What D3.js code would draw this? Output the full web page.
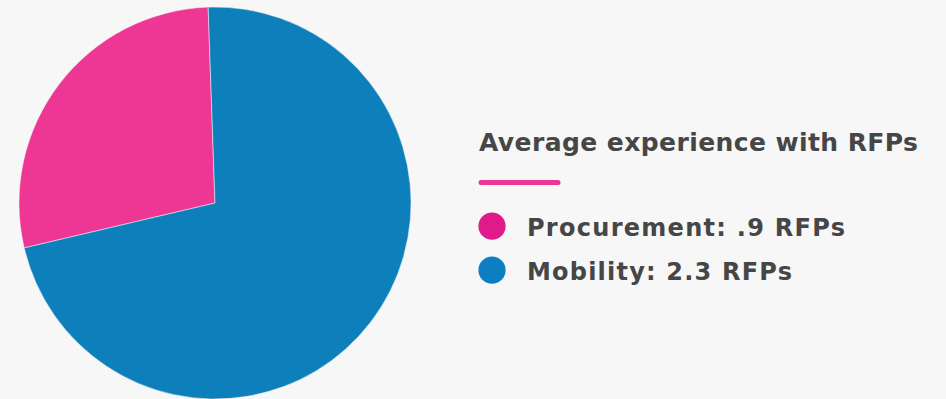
<!DOCTYPE html>
<html>
<head>
<meta charset="utf-8">
<script src="https://cdn.jsdelivr.net/npm/d3@7"></script>
<style>
  html, body { margin: 0; padding: 0; background: #f7f7f7; }
  svg { display: block; }
  text { font-family: "DejaVu Sans", sans-serif; font-weight: 700; fill: #464646; }
</style>
</head>
<body>
<svg id="chart" width="946" height="399"></svg>
<script>
// Average number of RFPs handled, by role
const categories = ["Procurement", "Mobility"];
const values = [0.9, 2.3];
const sliceColors = ["#ee3794", "#0d7fbb"];
const dotColors = ["#e01a8a", "#0b7fc1"];
const title = "Average experience with RFPs";
const unit = "RFPs";

const fmt = v => d3.format(".1f")(v).replace(/^0\./, ".");

const svg = d3.select("#chart");
const W = 946, H = 399;
svg.append("rect").attr("width", W).attr("height", H).attr("fill", "#f7f7f7");

const data = categories.map((c, i) => ({ name: c, value: values[i], i }));

// Pie: larger share first, clockwise from just left of twelve o'clock
const pie = d3.pie()
  .value(d => d.value)
  .sort((a, b) => b.value - a.value)
  .startAngle(-2 * Math.PI / 180)
  .endAngle(2 * Math.PI - 2 * Math.PI / 180);

const radius = 196;
const arc = d3.arc().innerRadius(0).outerRadius(radius);

const g = svg.append("g").attr("transform", "translate(215,203)");
g.selectAll("path")
  .data(pie(data))
  .join("path")
  .attr("d", arc)
  .attr("fill", d => sliceColors[d.data.i])
  .attr("stroke", "#f7f7f7")
  .attr("stroke-width", 0.5);

// Legend block
const legend = svg.append("g");

function fitWidth(sel, target) {
  const node = sel.node();
  const n = node.getNumberOfChars();
  const w = node.getComputedTextLength();
  if (n > 1) sel.attr("letter-spacing", ((target - w) / (n - 1)).toFixed(3));
}

const titleText = legend.append("text")
  .attr("x", 479).attr("y", 151)
  .attr("font-size", 25)
  .text(title);
fitWidth(titleText, 439);

legend.append("line")
  .attr("x1", 481).attr("x2", 558)
  .attr("y1", 182.5).attr("y2", 182.5)
  .attr("stroke", "#ee3794")
  .attr("stroke-width", 5)
  .attr("stroke-linecap", "round");

const rowY = d3.scaleBand().domain(categories).range([205, 293]);
const targets = [318, 265];

const rows = legend.selectAll("g.row")
  .data(data)
  .join("g")
  .attr("class", "row")
  .attr("transform", d => `translate(0,${rowY(d.name)})`);

rows.append("circle")
  .attr("cx", 492)
  .attr("cy", rowY.bandwidth() / 2 - 0.8)
  .attr("r", 13.6)
  .attr("fill", d => dotColors[d.i]);

rows.append("text")
  .attr("x", 527)
  .attr("y", rowY.bandwidth() / 2 + 8.5)
  .attr("font-size", 24)
  .text(d => `${d.name}: ${fmt(d.value)} ${unit}`)
  .each(function (d) { fitWidth(d3.select(this), targets[d.i]); });
</script>
</body>
</html>
